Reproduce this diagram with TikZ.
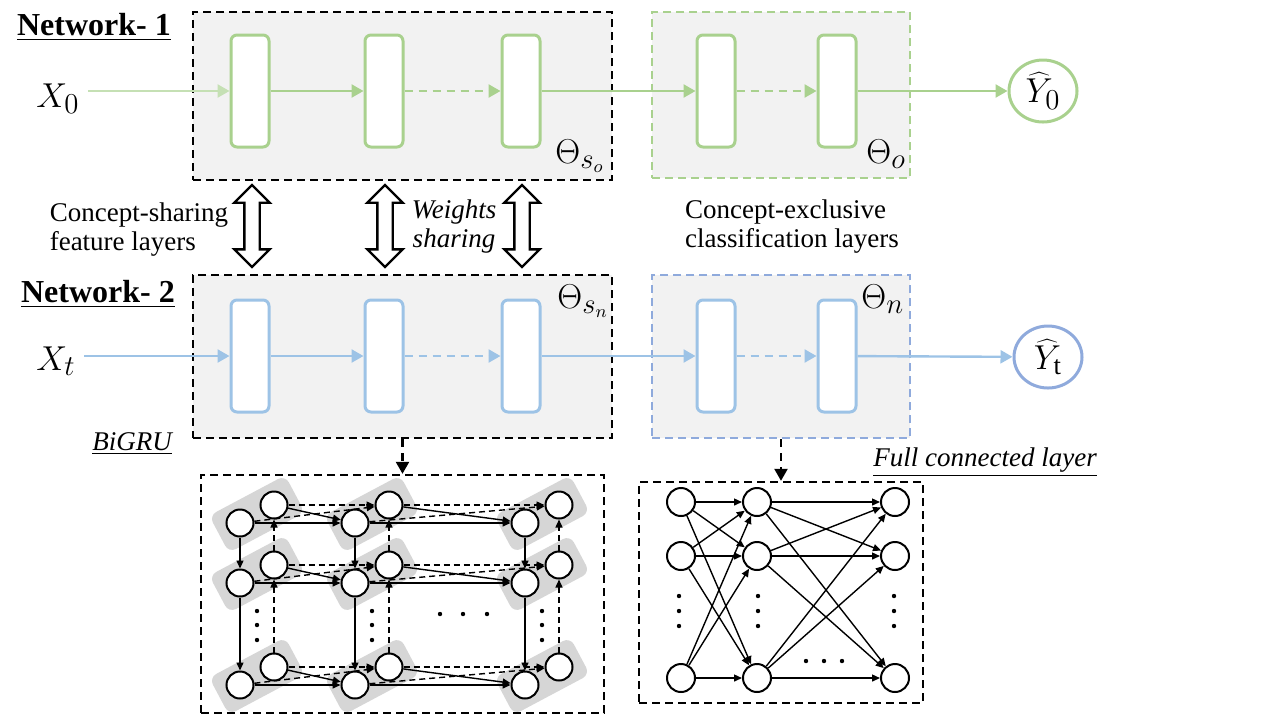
\documentclass[tikz,border=0pt]{standalone}
\usepackage{fontspec}
\setmainfont{Liberation Serif}
\usetikzlibrary{arrows.meta}
\usetikzlibrary{calc}
\usetikzlibrary{shapes.geometric}
\usetikzlibrary{shapes.arrows}
\pgfdeclarelayer{background}
\pgfsetlayers{background,main}

\definecolor{leafgreen}{HTML}{A9D18E}
\definecolor{palegreen}{HTML}{C5E0B4}
\definecolor{skyblue}{HTML}{9DC3E6}
\definecolor{steelblue}{HTML}{8FAADC}
\definecolor{panelgray}{HTML}{F2F2F2}
\definecolor{pairgray}{HTML}{D6D6D6}

\begin{document}
\begin{tikzpicture}[x=0.5pt, y=-0.5pt,
	font=\fontsize{13.5}{14.5}\selectfont,
	mathlbl/.style={font=\fontsize{19}{22}\selectfont, inner sep=0pt},
	netlbl/.style={font=\fontsize{16}{19}\selectfont\bfseries},
	itlbl/.style={font=\fontsize{13.5}{14.5}\selectfont\itshape},
	layerbox/.style={draw, rounded corners=3pt, fill=white, line width=1.5pt, minimum width=19pt, minimum height=56pt, inner sep=0pt},
	panelbox/.style={draw, fill=panelgray, line width=1.2pt, dash pattern=on 4pt off 2.5pt, inner sep=0pt},
	framebox/.style={draw, line width=1.2pt, dash pattern=on 4pt off 2.5pt, inner sep=0pt},
	flowarrow/.style={line width=1.2pt, -{Triangle[length=6pt,width=6.5pt]}},
	flowdash/.style={dash pattern=on 4pt off 3pt},
	cell/.style={draw, circle, fill=white, line width=1pt, minimum size=13.5pt, inner sep=0pt},
	pairbg/.style={fill=pairgray, rounded corners=4pt, minimum width=43pt, minimum height=21pt, inner sep=0pt},
	linkarrow/.style={line width=0.7pt, -{Triangle[length=4pt,width=3.5pt]}},
	linkdash/.style={dash pattern=on 3pt off 2pt},
	sharearrow/.style={double arrow, draw, fill=white, line width=1.2pt, minimum height=41pt, inner sep=3.25pt, double arrow head extend=5pt, rotate=90},
]
	\useasboundingbox (0,0) rectangle (1280,720);

	% panels
	\node[panelbox, minimum width=209.5pt, minimum height=84pt] (s1) at (402.5,96) {};
	\node[panelbox, draw=leafgreen, minimum width=129pt, minimum height=83pt] (c1) at (781,95) {};
	\node[panelbox, minimum width=209.5pt, minimum height=81.5pt] (s2) at (402.5,356.5) {};
	\node[panelbox, draw=steelblue, minimum width=129pt, minimum height=81.5pt] (c2) at (781,356.5) {};

	\foreach \x [count=\i] in {250,384,521,716,837} {
		\node[layerbox, draw=leafgreen] (g\i) at (\x,91) {};
		\node[layerbox, draw=skyblue] (b\i) at (\x,356) {};
	}

	\node[netlbl] (net1) at (94,27) {\underline{Network- 1}};
	\node[netlbl] (net2) at (98,294) {\underline{Network- 2}};

	\node[mathlbl, anchor=base west] (x0) at (36,107) {$X_0$};
	\node[mathlbl, anchor=base west] (xt) at (36,370) {$X_t$};
	\node[mathlbl, draw=leafgreen, ellipse, line width=1.5pt, minimum width=34pt, minimum height=31pt] (y0) at (1043,91) {$\widehat{Y}_0$};
	\node[mathlbl, draw=steelblue, ellipse, line width=1.5pt, minimum width=34pt, minimum height=31pt] (yt) at (1048,357) {$\widehat{Y}_{\mathrm{t}}$};

	\node[mathlbl, anchor=base west] (th1) at (555,163) {$\Theta_{s_o}$};
	\node[mathlbl, anchor=base west] (th2) at (866,163) {$\Theta_o$};
	\node[mathlbl, anchor=base west] (th3) at (557,308) {$\Theta_{s_n}$};
	\node[mathlbl, anchor=base west] (th4) at (861,308) {$\Theta_n$};

	% network flows
	\draw[flowarrow, palegreen, shorten <=4pt] (x0.east |- g1.west) -- (g1.west);
	\draw[flowarrow, leafgreen] (g1) -- (g2);
	\draw[flowarrow, leafgreen, flowdash] (g2) -- (g3);
	\draw[flowarrow, leafgreen] (g3) -- (g4);
	\draw[flowarrow, leafgreen, flowdash] (g4) -- (g5);
	\draw[flowarrow, leafgreen] (g5) -- (y0);

	\draw[flowarrow, skyblue, shorten <=4pt] (xt.east |- b1.west) -- (b1.west);
	\draw[flowarrow, skyblue] (b1) -- (b2);
	\draw[flowarrow, skyblue, flowdash] (b2) -- (b3);
	\draw[flowarrow, skyblue] (b3) -- (b4);
	\draw[flowarrow, skyblue, flowdash] (b4) -- (b5);
	\draw[flowarrow, skyblue] (b5) -- (yt);

	% weight sharing
	\foreach \x [count=\i] in {252,385,522} {
		\node[sharearrow] (w\i) at (\x,226) {};
	}
	\node[align=left] (feat) at (139,230) {Concept-sharing\\feature layers};
	\node[itlbl, align=center] (wts) at (454,226) {Weights\\sharing};
	\node[align=left] (cls) at (792,227) {Concept-exclusive\\classification layers};

	\node[itlbl] (grulbl) at (132,444) {\underline{BiGRU}};
	\node[itlbl] (fclbl) at (985,462) {\underline{Full connected layer}};

	% detail frames
	\node[framebox, minimum width=201.5pt, minimum height=119pt] (gru) at (402.5,594) {};
	\node[framebox, minimum width=142pt, minimum height=110.5pt] (fc) at (781,592.5) {};
	\draw[flowarrow, flowdash] (s2.south) -- (gru.north);
	\draw[flowarrow, flowdash] (c2.south) -- (fc.north);

	% BiGRU cells
	\foreach \col/\x in {1/240,2/355,3/525} {
		\foreach \row/\y in {1/523,2/583,3/685} {
			\node[cell] (a\col\row) at (\x,\y) {};
			\node[cell] (b\col\row) at (\x+34,\y-18) {};
			\begin{pgfonlayer}{background}
				\node[pairbg, rotate=28] at ($(a\col\row)!0.5!(b\col\row)$) {};
			\end{pgfonlayer}
		}
	}
	\foreach \col/\nxt in {1/2,2/3} {
		\foreach \row in {1,2,3} {
			\draw[linkarrow] (a\col\row) -- (a\nxt\row);
			\draw[linkarrow] (b\col\row) -- (a\nxt\row);
			\draw[linkarrow, linkdash] (b\col\row) -- (b\nxt\row);
			\draw[linkarrow, linkdash] (a\col\row) -- (b\nxt\row);
		}
	}
	\foreach \col in {1,2,3} {
		\draw[linkarrow] (a\col1) -- (a\col2);
		\draw[linkarrow] (a\col2) -- (a\col3);
		\draw[linkarrow, linkdash] (b\col2) -- (b\col1);
		\draw[linkarrow, linkdash] (b\col3) -- (b\col2);
	}
	\foreach \x in {257,372,542} {
		\foreach \y in {611,625,640} {
			\fill (\x,\y) circle (1.1pt);
		}
	}
	\foreach \x in {440,463,487} {
		\fill (\x,614) circle (1.1pt);
	}

	% full connected cells
	\foreach \col/\x in {1/681,2/757,3/895} {
		\foreach \row/\y in {1/502,2/556,3/678} {
			\node[cell, minimum size=14pt] (p\col\row) at (\x,\y) {};
		}
	}
	\foreach \i in {1,2,3} {
		\foreach \j in {1,2,3} {
			\draw[linkarrow] (p1\i) -- (p2\j);
			\draw[linkarrow] (p2\i) -- (p3\j);
		}
	}
	\foreach \x in {679,758,894} {
		\foreach \y in {596,611,626} {
			\fill (\x,\y) circle (1.1pt);
		}
	}
	\foreach \x in {806,824,842} {
		\fill (\x,661) circle (1.1pt);
	}
\end{tikzpicture}
\end{document}
